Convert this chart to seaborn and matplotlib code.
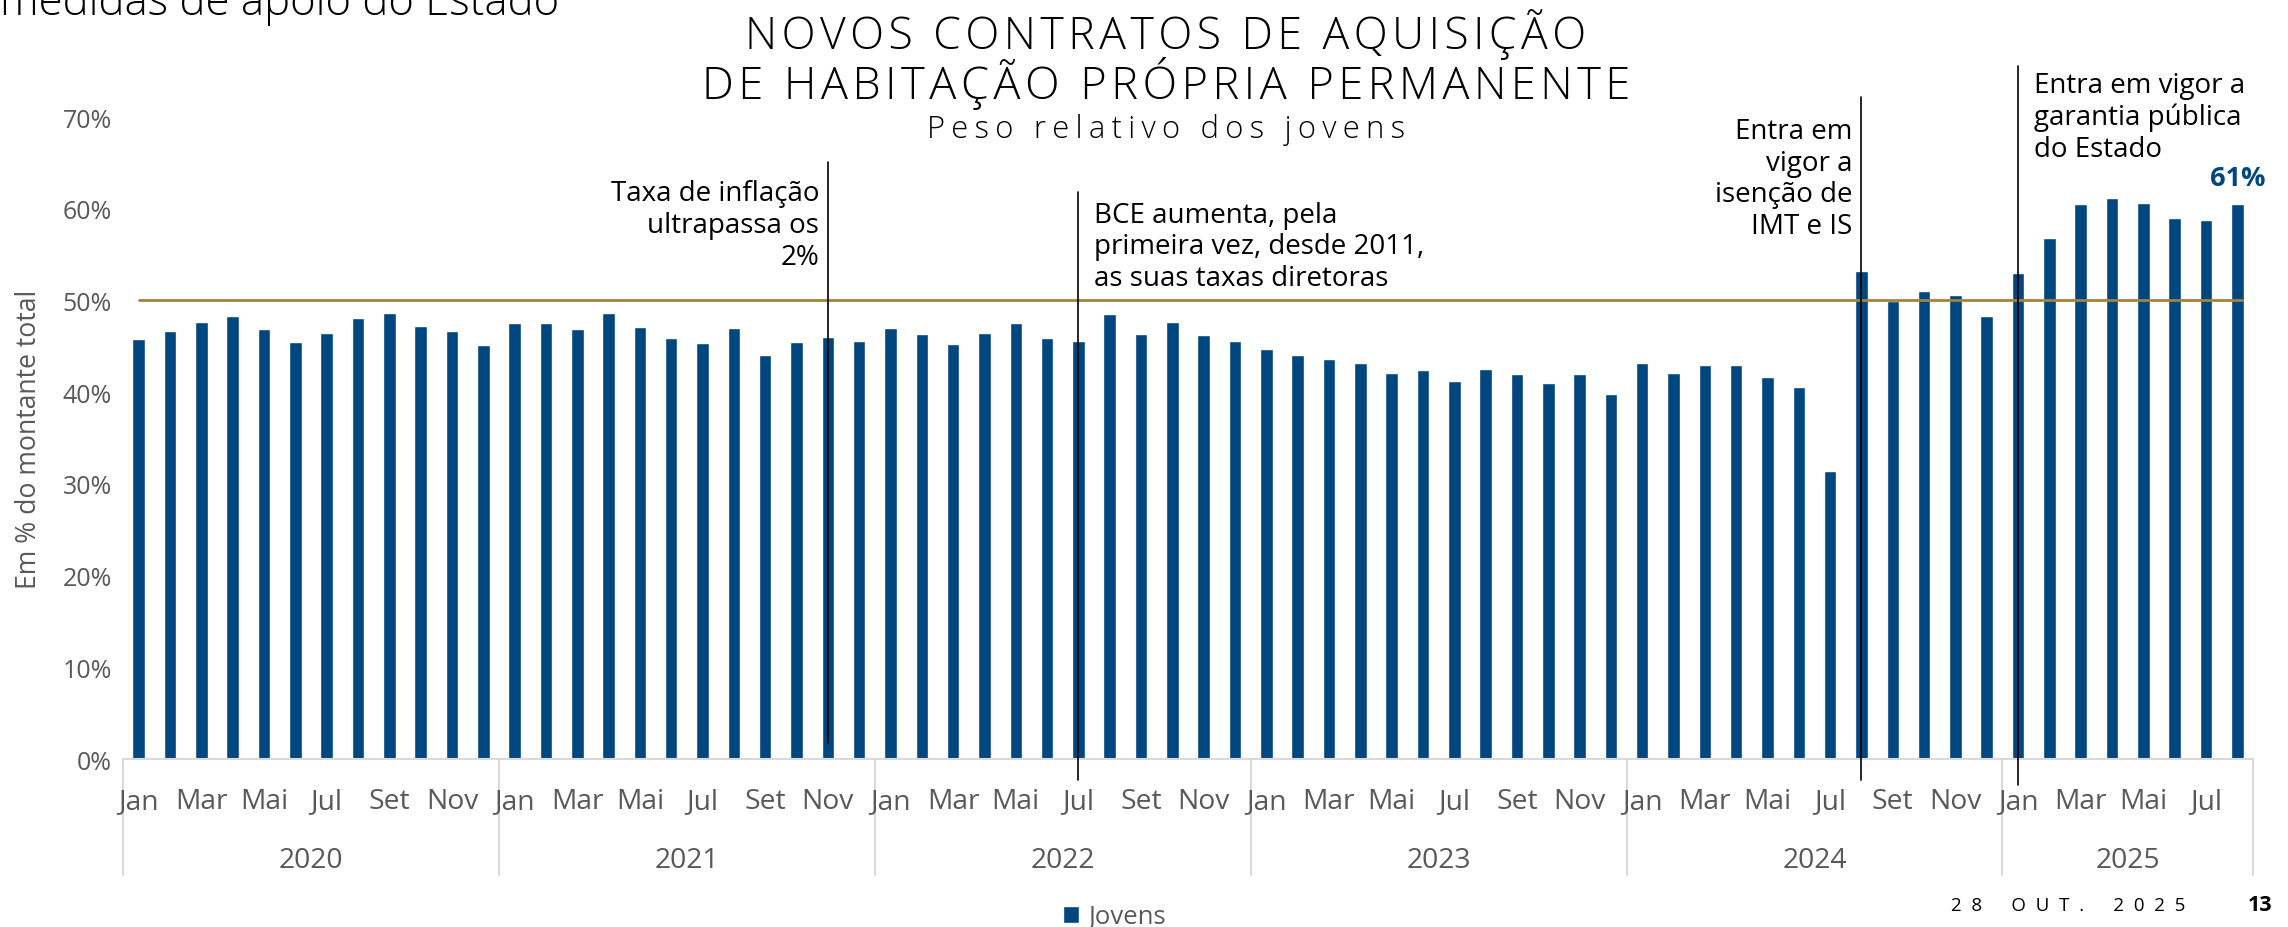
import matplotlib
matplotlib.use("Agg")
import matplotlib.pyplot as plt
import matplotlib.transforms as mtransforms
import seaborn as sns
import pandas as pd
import numpy as np

# ---------------- data ----------------
years = ["2020", "2021", "2022", "2023", "2024", "2025"]
months = ["Jan", "Fev", "Mar", "Abr", "Mai", "Jun", "Jul", "Ago", "Set", "Out", "Nov", "Dez"]
months_per_year = [12, 12, 12, 12, 12, 8]

v2020 = [45.8, 46.7, 47.6, 48.3, 46.9, 45.5, 46.5, 48.1, 48.6, 47.2, 46.7, 45.1]
v2021 = [47.5, 47.5, 46.9, 48.6, 47.1, 45.9, 45.4, 47.0, 44.1, 45.5, 46.0, 45.6]
v2022 = [47.0, 46.3, 45.3, 46.5, 47.5, 45.9, 45.6, 48.5, 46.3, 47.7, 46.2, 45.6]
v2023 = [44.7, 44.0, 43.6, 43.2, 42.1, 42.4, 41.2, 42.5, 42.0, 41.0, 42.0, 39.8]
v2024 = [43.2, 42.1, 43.0, 43.0, 41.7, 40.6, 31.4, 53.2, 49.9, 51.0, 50.6, 48.3]
v2025 = [53.0, 56.8, 60.5, 61.2, 60.6, 59.0, 58.8, 60.5]

reference_level = 50.0
yticks = [0, 10, 20, 30, 40, 50, 60, 70]

# events: (year, month index 0-based, text, side, line bottom, line top, text y)
events = [
    ("2021", 10, "Taxa de inflação\nultrapassa os\n2%", "left", 1.8, 65.1, 58.2),
    ("2022", 6, "BCE aumenta, pela\nprimeira vez, desde 2011,\nas suas taxas diretoras", "right", -2.3, 61.8, 55.9),
    ("2024", 7, "Entra em\nvigor a\nisenção de\nIMT e IS", "left", -2.3, 72.2, 63.3),
    ("2025", 0, "Entra em vigor a\ngarantia pública\ndo Estado", "right", -2.8, 75.6, 70.0),
]
last_label = "61%"

# ---------------- build table ----------------
all_vals = [v2020, v2021, v2022, v2023, v2024, v2025]
rows = []
for y, vals in zip(years, all_vals):
    for m, v in enumerate(vals):
        rows.append({"period": f"{y}-{m+1:02d}", "year": y, "month": months[m], "value": v})
df = pd.DataFrame(rows)
period_index = {p: i for i, p in enumerate(df["period"])}

BAR = "#00467F"
GOLD = "#A0843F"
GRAY = "#595959"
SEP = "#D9D9D9"

sns.set_theme(style="white")
plt.rcParams["font.family"] = ["Open Sans", "DejaVu Sans"]

fig = plt.figure(figsize=(22.88, 9.28), dpi=100)
ax = fig.add_axes([0.0538, 0.181, 0.9847 - 0.0538, 0.6918])

sns.barplot(data=df, x="period", y="value", color=BAR, width=0.4,
            saturation=1, ax=ax, label="Jovens", zorder=2)

n = len(df)
ax.set_xlim(-0.5, n - 0.5)
ax.set_ylim(0, 70)

# reference line
ax.plot([0, n - 1 + 0.15], [reference_level, reference_level], color=GOLD, lw=2.0, zorder=3)

# y axis
ax.set_yticks(yticks)
ax.set_yticklabels([f"{t}%" for t in yticks], color=GRAY, fontsize=18)
ax.set_ylabel("Em % do montante total", color=GRAY, fontsize=19.2, labelpad=14)
ax.tick_params(axis="y", length=0, pad=8)

# x axis: month labels every other month
tick_pos, tick_lab = [], []
for i, row in df.iterrows():
    if months.index(row["month"]) % 2 == 0:
        tick_pos.append(i)
        tick_lab.append(row["month"])
ax.set_xticks(tick_pos)
ax.set_xticklabels(tick_lab, color=GRAY, fontsize=20.3)
ax.tick_params(axis="x", length=0, pad=20)
ax.set_xlabel("")
ax.xaxis.set_zorder(3)

for s in ["top", "right", "left"]:
    ax.spines[s].set_visible(False)
ax.spines["bottom"].set_color(SEP)
ax.spines["bottom"].set_linewidth(1.5)

trans = mtransforms.blended_transform_factory(ax.transData, ax.transAxes)
start = 0
bounds = [-0.5]
for y, cnt in zip(years, months_per_year):
    center = start + (cnt - 1) / 2
    ax.text(center, -0.157, y, transform=trans, ha="center", va="center",
            color=GRAY, fontsize=20.3)
    start += cnt
    bounds.append(start - 0.5)
for b in bounds:
    ax.plot([b, b], [0, -0.181], transform=trans, color=SEP, lw=1.5, clip_on=False, zorder=1)

# events
for y, m, txt, side, y0, y1, ty in events:
    x = period_index[f"{y}-{m+1:02d}"]
    ax.plot([x, x], [y0, y1], color="black", lw=1.2, clip_on=False, zorder=4)
    if side == "left":
        ax.text(x - 0.28, ty, txt, ha="right", va="center", fontsize=20,
                color="black", linespacing=1.18)
    else:
        ax.text(x + 0.5, ty, txt, ha="left", va="center", fontsize=20,
                color="black", linespacing=1.18)

# last value label
ax.text(n - 1, 63.4, last_label, ha="center", va="center", fontsize=19.5,
        fontweight="bold", color=BAR)

# legend
ax.legend(loc="center", bbox_to_anchor=(0.487, 0.011), bbox_transform=fig.transFigure,
          frameon=False, fontsize=18.5, handlelength=0.65, handleheight=0.65,
          handletextpad=0.35, labelcolor=GRAY)

# titles
def spaced(s, sep="\u200a"):
    return sep.join(s)

fig.text(0.5096, 0.963, spaced("NOVOS CONTRATOS DE AQUISIÇÃO"), ha="center", va="center",
         fontsize=32, color="black", fontweight="light")
fig.text(0.5096, 0.9095, spaced("DE HABITAÇÃO PRÓPRIA PERMANENTE"), ha="center", va="center",
         fontsize=32.5, color="black", fontweight="light")
fig.text(0.5096, 0.860, spaced("Peso relativo dos jovens", "\u2009"), ha="center", va="center",
         fontsize=22.3, color="black", fontweight="light")

fig.text(0.0, 1 - 15 / 928, "medidas de apoio do Estado", ha="left", va="baseline",
         fontsize=31.5, color="black", fontweight="light")

# footer
date_words = ["28", "OUT.", "2025"]
footer = "      ".join("  ".join(w) for w in date_words)
fig.text(2185 / 2288, 1 - 906 / 928, footer, ha="right", va="center",
         fontsize=13.5, color="black")
fig.text(2260 / 2288, 1 - 906 / 928, "13", ha="center", va="center",
         fontsize=15.5, color="black", fontweight="bold")

fig.savefig("out.png", dpi=100)
